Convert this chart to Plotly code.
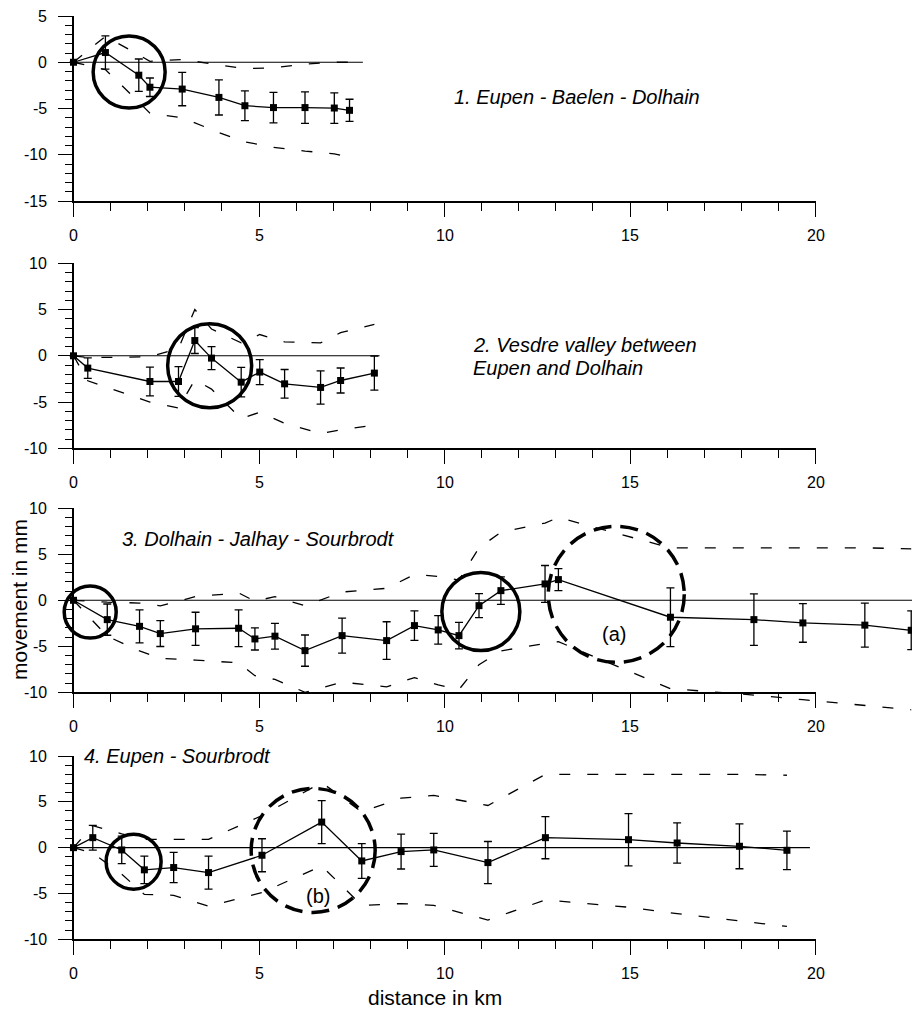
import plotly.graph_objects as go

# ---------------- data ----------------
# Panel 1: Eupen - Baelen - Dolhain
dist1 = [0, 0.86, 1.76, 2.06, 2.93, 3.92, 4.62, 5.39, 6.24, 7.03, 7.44]
move1 = [0, 1.05, -1.4, -2.7, -2.9, -3.8, -4.7, -4.9, -4.9, -4.95, -5.2]
err1 = [0, 1.8, 1.75, 1.0, 1.8, 1.9, 1.6, 1.65, 1.7, 1.65, 1.2]
upper1 = [0, 2.8, 0.8, 0.1, 0.3, -0.3, -0.7, -0.6, -0.2, 0.0, 0.0]
lower1 = [0, -0.8, -4.3, -5.5, -6.0, -7.6, -8.6, -9.2, -9.6, -9.9, -10.3]

# Panel 2: Vesdre valley between Eupen and Dolhain
dist2 = [0, 0.385, 2.06, 2.83, 3.27, 3.72, 4.52, 5.02, 5.69, 6.66, 7.2, 8.11]
move2 = [0, -1.33, -2.78, -2.78, 1.65, -0.25, -2.85, -1.76, -3.03, -3.42, -2.67, -1.87]
err2 = [0, 1.1, 1.55, 1.6, 1.4, 1.25, 1.6, 1.35, 1.55, 1.8, 1.35, 1.85]
upper2 = [0, -0.2, -0.1, 0.8, 5.0, 2.9, 1.4, 2.3, 1.5, 1.4, 2.5, 3.4]
lower2 = [0, -2.7, -5.0, -5.65, -2.6, -3.6, -6.8, -6.1, -7.3, -8.4, -8.0, -7.5]

# Panel 3: Dolhain - Jalhay - Sourbrodt
dist3 = [0, 0.91, 1.78, 2.34, 3.29, 4.45, 4.89, 5.43, 6.24, 7.24, 8.44, 9.19, 9.83,
         10.39, 10.93, 11.52, 12.71, 13.07, 16.09, 18.34, 19.66, 21.33, 22.58]
move3 = [0, -2.1, -2.83, -3.62, -3.1, -3.04, -4.2, -3.9, -5.47, -3.84, -4.38, -2.75, -3.22,
         -3.84, -0.58, 1.05, 1.78, 2.25, -1.84, -2.1, -2.46, -2.7, -3.26]
err3 = [0, 1.7, 1.8, 1.4, 1.8, 2.0, 1.2, 1.4, 1.7, 1.9, 2.05, 1.6, 1.55,
        1.45, 1.3, 1.5, 2.0, 1.2, 3.2, 2.8, 2.1, 2.4, 2.1]
upper3 = [0, -0.2, -0.3, -0.6, 0.4, 0.8, -0.1, 0.4, -0.6, 0.9, 1.3, 2.8, 2.6,
          2.2, 5.7, 7.4, 8.4, 9.0, 5.7, 5.7, 5.7, 5.7, 5.6]
lower3 = [0, -3.9, -5.5, -6.3, -6.5, -6.8, -8.2, -8.6, -10.0, -8.9, -9.4, -8.4, -9.2,
          -9.7, -7.0, -5.5, -4.7, -4.5, -9.6, -10.3, -10.8, -11.4, -11.9]

# Panel 4: Eupen - Sourbrodt
dist4 = [0, 0.52, 1.30, 1.91, 2.70, 3.64, 5.08, 6.69, 7.77, 8.83, 9.71, 11.17, 12.72,
         14.96, 16.27, 17.95, 19.23]
move4 = [0, 1.09, -0.25, -2.42, -2.17, -2.72, -0.83, 2.79, -1.45, -0.43, -0.25, -1.63, 1.09,
         0.87, 0.51, 0.15, -0.29]
err4 = [0, 1.35, 1.5, 1.5, 1.65, 1.8, 1.8, 2.35, 1.9, 1.9, 1.8, 2.3, 2.3,
        2.85, 2.2, 2.45, 2.1]
upper4 = [0, 2.4, 1.5, 0.9, 0.9, 0.9, 3.5, 7.1, 3.9, 5.4, 5.7, 4.6, 8.0,
          8.0, 8.0, 8.0, 7.9]
lower4 = [0, -0.6, -2.9, -5.1, -5.2, -6.4, -4.9, -2.0, -6.3, -6.1, -6.3, -7.9, -5.7,
          -6.5, -7.2, -8.0, -8.6]

zero_line_end = [7.8, 8.25, 22.7, 19.85]

panel_titles = ["1. Eupen - Baelen - Dolhain",
                "2. Vesdre valley between<br>Eupen and Dolhain",
                "3. Dolhain - Jalhay - Sourbrodt",
                "4. Eupen - Sourbrodt"]
y_ranges = [(-15, 5), (-10, 10), (-10, 10), (-10, 10)]
x_tick_vals = [0, 5, 10, 15, 20]
x_title = "distance in km"
y_title = "movement in mm"

# highlighted zones (circles): panel, centre distance, centre movement, radius in px, dashed
circle_panel = [1, 2, 3, 3, 3, 4, 4]
circle_x = [1.50, 3.67, 0.45, 10.98, 14.63, 1.62, 6.46]
circle_y = [-1.06, -1.08, -1.28, -1.23, 0.65, -1.53, -0.30]
circle_r = [36, 42, 26, 39, 68, 27.5, 62]
circle_dashed = [False, False, False, False, True, False, True]

zone_text = ["(a)", "(b)"]
zone_panel = [3, 4]
zone_x = [14.56, 6.58]
zone_y = [-3.7, -5.25]

dists = [dist1, dist2, dist3, dist4]
moves = [move1, move2, move3, move4]
errs = [err1, err2, err3, err4]
uppers = [upper1, upper2, upper3, upper4]
lowers = [lower1, lower2, lower3, lower4]

# ---------------- layout geometry ----------------
W, H = 912, 1012
PX0 = 73.5          # pixel of 0 km
PXKM = 37.1         # pixels per km
DX0 = 30            # left edge of drawing area
panel_top = [16, 263.3, 508.3, 756]
panel_bot = [201, 448.3, 692.3, 939.3]
PAD = 30
YLAB_RIGHT = 49     # right edge of y tick labels (px)
XLAB_DROP = 34      # centre of x tick labels below the axis (px)
FONT = "Liberation Sans, Arial, Helvetica, sans-serif"
BLACK = "black"

fig = go.Figure()
layout = dict(
    width=W, height=H,
    margin=dict(l=0, r=0, t=0, b=0, pad=0),
    paper_bgcolor="white", plot_bgcolor="rgba(0,0,0,0)",
    showlegend=False,
    font=dict(family=FONT, color=BLACK, size=16),
)

shapes = []
annotations = []
tick_font = dict(size=16, family=FONT, color=BLACK)

for i in range(4):
    n = i + 1
    d = i + 5
    ymin, ymax = y_ranges[i]
    top, bot = panel_top[i], panel_bot[i]
    ppm = (bot - top) / (ymax - ymin)
    pt = min(PAD, top)
    pb = min(PAD, H - bot)
    sx = "" if n == 1 else str(n)

    # visible axes (frame and ticks)
    layout[f"xaxis{sx}"] = dict(
        domain=[PX0 / W, (PX0 + 20 * PXKM) / W], range=[0, 20], anchor=f"y{sx}",
        showgrid=False, zeroline=False, showline=True, linecolor=BLACK, linewidth=1.5,
        ticks="outside", ticklen=14, tickwidth=1.3, tickcolor=BLACK,
        tickmode="array", tickvals=x_tick_vals, showticklabels=False,
        minor=dict(ticks="outside", ticklen=8, tickwidth=1.2, tickcolor=BLACK,
                   tickmode="array", tickvals=list(range(0, 21)), showgrid=False),
        automargin=False, fixedrange=True,
    )
    yt = list(range(ymin, ymax + 1, 5))
    layout[f"yaxis{sx}"] = dict(
        domain=[1 - bot / H, 1 - top / H], range=[ymin, ymax], anchor=f"x{sx}",
        showgrid=False, zeroline=False, showline=True, linecolor=BLACK, linewidth=1.5,
        ticks="outside", ticklen=14, tickwidth=1.3, tickcolor=BLACK,
        tickmode="array", tickvals=yt, showticklabels=False,
        minor=dict(ticks="outside", ticklen=7, tickwidth=1.2, tickcolor=BLACK,
                   tickmode="array", tickvals=list(range(ymin, ymax + 1)), showgrid=False),
        automargin=False, fixedrange=True,
    )
    # tick labels placed on the axis values
    for v in x_tick_vals:
        annotations.append(dict(text=str(v), x=v, xref=f"x{sx}", y=1 - (bot + XLAB_DROP) / H,
                                yref="paper", xanchor="center", yanchor="middle",
                                showarrow=False, font=tick_font))
    for v in yt:
        annotations.append(dict(text=str(v), x=YLAB_RIGHT / W, xref="paper", y=v,
                                yref=f"y{sx}", xanchor="right", yanchor="middle",
                                showarrow=False, font=tick_font))

    # drawing axes (same scale, larger area so nothing is clipped)
    layout[f"xaxis{d}"] = dict(
        domain=[DX0 / W, 1], range=[(DX0 - PX0) / PXKM, (W - PX0) / PXKM],
        anchor=f"y{d}", visible=False, fixedrange=True,
    )
    layout[f"yaxis{d}"] = dict(
        domain=[1 - (bot + pb) / H, 1 - (top - pt) / H],
        range=[ymin - pb / ppm, ymax + pt / ppm],
        anchor=f"x{d}", visible=False, fixedrange=True,
    )

    # empty trace so the framed subplot is created
    fig.add_trace(go.Scatter(x=[], y=[], mode="lines", xaxis=f"x{sx}", yaxis=f"y{sx}",
                             hoverinfo="skip"))

    xa, ya = f"x{d}", f"y{d}"
    # zero reference line
    fig.add_trace(go.Scatter(x=[0, zero_line_end[i]], y=[0, 0], mode="lines",
                             line=dict(color=BLACK, width=1.1), xaxis=xa, yaxis=ya,
                             hoverinfo="skip"))
    # envelopes
    for env in (uppers[i], lowers[i]):
        fig.add_trace(go.Scatter(x=dists[i], y=env, mode="lines",
                                 line=dict(color=BLACK, width=1.3, dash="11px,17px"),
                                 xaxis=xa, yaxis=ya, hoverinfo="skip"))
    # measured movements
    fig.add_trace(go.Scatter(
        x=dists[i], y=moves[i], mode="lines+markers",
        line=dict(color=BLACK, width=1.3),
        marker=dict(symbol="square", size=7, color=BLACK),
        error_y=dict(type="data", array=errs[i], symmetric=True, color=BLACK,
                     thickness=1.3, width=4),
        xaxis=xa, yaxis=ya, cliponaxis=False,
    ))

# circles
for k in range(len(circle_x)):
    d = circle_panel[k] + 4
    r = circle_r[k]
    shapes.append(dict(
        type="circle", xref=f"x{d}", yref=f"y{d}",
        xsizemode="pixel", ysizemode="pixel",
        xanchor=circle_x[k], yanchor=circle_y[k],
        x0=-r, x1=r, y0=-r, y1=r,
        line=dict(color=BLACK, width=3.5, dash="18px,9px" if circle_dashed[k] else "solid"),
        fillcolor="rgba(0,0,0,0)", layer="above",
    ))

for k in range(len(zone_text)):
    d = zone_panel[k] + 4
    annotations.append(dict(text=zone_text[k], x=zone_x[k], y=zone_y[k],
                            xref=f"x{d}", yref=f"y{d}", showarrow=False,
                            font=dict(size=20, family=FONT, color=BLACK)))

# panel titles (each line placed separately)
title_px = [(452, 97), (471, 345), (120, 539), (82, 756)]
LINE_GAP = 23
for i, (px, py) in enumerate(title_px):
    for j, line in enumerate(panel_titles[i].split("<br>")):
        annotations.append(dict(text=f"<i>{line}</i>", x=px / W, y=1 - (py + j * LINE_GAP) / H,
                                xref="paper", yref="paper", xanchor="left", yanchor="middle",
                                align="left", showarrow=False,
                                font=dict(size=20, family=FONT, color=BLACK)))

# axis titles
annotations.append(dict(text=x_title, x=435 / W, y=1 - 997 / H, xref="paper", yref="paper",
                        xanchor="center", yanchor="middle", showarrow=False,
                        font=dict(size=21, family=FONT, color=BLACK)))
annotations.append(dict(text=y_title, x=19 / W, y=1 - 600 / H, xref="paper", yref="paper",
                        xanchor="center", yanchor="middle", showarrow=False, textangle=-90,
                        font=dict(size=21, family=FONT, color=BLACK)))

layout["shapes"] = shapes
layout["annotations"] = annotations
fig.update_layout(**layout)
fig.write_html("out.html", config={"displayModeBar": False},
               post_script="document.body.style.margin='0';")
